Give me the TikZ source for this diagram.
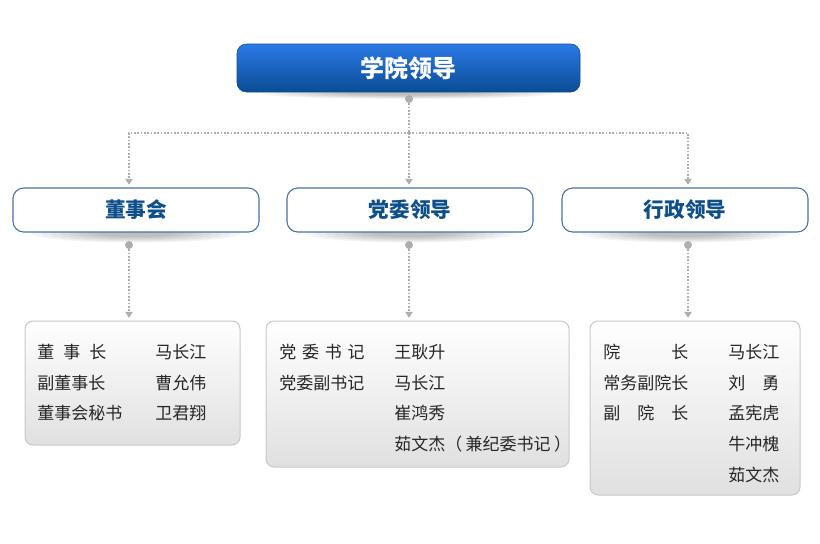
\documentclass[tikz,border=0pt]{standalone}
\usepackage{fontspec}
\setmainfont{Noto Sans CJK SC}
\usetikzlibrary{arrows.meta, backgrounds}
\definecolor{leadtop}{HTML}{2B7AE6}
\definecolor{leadbot}{HTML}{0A4C94}
\definecolor{headblue}{HTML}{0D4F8B}
\definecolor{headline}{HTML}{4A6FA8}
\definecolor{dotgray}{HTML}{AEAEAE}
\definecolor{listline}{HTML}{C8C8C8}
\definecolor{listbot}{HTML}{E0E0E0}
\tikzset{
  leadbox/.style={rounded corners=7pt,top color=leadtop,bottom color=leadbot,draw=leadbot,
    minimum width=257.25pt,minimum height=36pt,inner sep=0pt,text=white,
    font=\fontsize{18}{20}\selectfont\bfseries},
  headbox/.style={rounded corners=8pt,draw=headline,line width=0.8pt,fill=white,
    minimum width=184.5pt,minimum height=33pt,inner sep=0pt,text=headblue,
    font=\fontsize{15.5}{18}\selectfont\bfseries},
  listbox/.style={rounded corners=6pt,draw=listline,line width=0.75pt,
    top color=white,bottom color=listbot,inner sep=0pt},
  listtext/.style={anchor=base west,inner sep=0pt,text=black!85,
    font=\fontsize{12.75}{23}\selectfont},
  dotnode/.style={circle,fill=dotgray,inner sep=0pt,minimum size=6pt},
  linkedge/.style={draw=dotgray,line width=1.2pt,dash pattern=on 1.2pt off 1.3pt},
  linkarrow/.style={linkedge,-{Triangle[width=5.5pt,length=4.5pt]},shorten >=2pt},
  boxshadow/.style={fill=black,opacity=0.035},
}

\begin{document}
\begin{tikzpicture}[x=0.75pt,y=-0.75pt]
  \useasboundingbox (0,0) rectangle (820,543);
  \node[leadbox] (nLead) at (408.5,68) {学院领导};
  \node[headbox] (nBoard) at (136,210) {董事会};
  \node[headbox] (nParty) at (410,210) {党委领导};
  \node[headbox] (nAdmin) at (685,210) {行政领导};
  \node[listbox,minimum width=161.25pt,minimum height=93pt] (bBoard) at (132.5,383) {};
  \node[listbox,minimum width=227.25pt,minimum height=109.5pt] (bParty) at (417.5,394) {};
  \node[listbox,minimum width=157.5pt,minimum height=130.5pt] (bAdmin) at (695,408) {};
  % member lists
  \node[listtext] (tBoard) at (37,358.5) {\begin{tabular}[t]{@{}p{88.5pt}@{}l@{}}
    董\hspace{.53em}事\hspace{.53em}长 & 马长江\\
    副董事长 & 曹允伟\\
    董事会秘书 & 卫君翔
  \end{tabular}};
  \node[listtext] (tParty) at (279,358.5) {\begin{tabular}[t]{@{}p{86.25pt}@{}l@{}}
    党\hspace{.34em}委\hspace{.34em}书\hspace{.34em}记 & 王耿升\\
    党委副书记 & 马长江\\
    & 崔鸿秀\\
    & 茹文杰（\hspace{.2em}兼纪委书记\hspace{.2em}）
  \end{tabular}};
  \node[listtext] (tAdmin) at (603,358.5) {\begin{tabular}[t]{@{}p{93.75pt}@{}l@{}}
    院\hspace{3em}长 & 马长江\\
    常务副院长 & 刘\hspace{1em}勇\\
    副\hspace{1em}院\hspace{1em}长 & 孟宪虎\\
    & 牛冲槐\\
    & 茹文杰
  \end{tabular}};
  % connectors
  \node[dotnode] (dLead) at (409,99) {};
  \node[dotnode] (dBoard) at (129,245) {};
  \node[dotnode] (dParty) at (409,245) {};
  \node[dotnode] (dAdmin) at (688,245) {};
  \coordinate (jTop) at (409,133);
  \draw[linkedge] (dLead) -- (jTop);
  \draw[linkarrow] (jTop) -| (dBoard |- nBoard.north);
  \draw[linkarrow] (jTop) -| (dAdmin |- nAdmin.north);
  \draw[linkarrow] (jTop) -- (nParty.north -| jTop);
  \draw[linkarrow] (dBoard) -- (dBoard |- bBoard.north);
  \draw[linkarrow] (dParty) -- (dParty |- bParty.north);
  \draw[linkarrow] (dAdmin) -- (dAdmin |- bAdmin.north);
  % soft shadows under the title boxes
  \begin{scope}[on background layer]
    \foreach \i in {0,...,7} {
      \fill[boxshadow] ([yshift=-1pt]nLead.south) ellipse ({110pt-9pt*\i} and {4pt-0.4pt*\i});
      \fill[boxshadow] ([yshift=-1pt]nBoard.south) ellipse ({78pt-7pt*\i} and {6.5pt-0.6pt*\i});
      \fill[boxshadow] ([yshift=-1pt]nParty.south) ellipse ({78pt-7pt*\i} and {6.5pt-0.6pt*\i});
      \fill[boxshadow] ([yshift=-1pt]nAdmin.south) ellipse ({78pt-7pt*\i} and {6.5pt-0.6pt*\i});
    }
  \end{scope}
\end{tikzpicture}
\end{document}
